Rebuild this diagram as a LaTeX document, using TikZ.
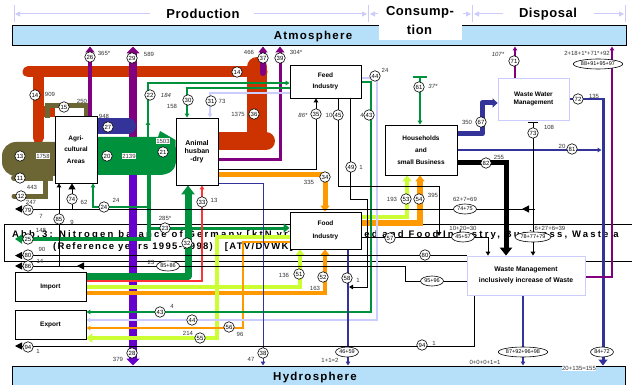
\documentclass[tikz,border=0pt]{standalone}
\usepackage{fontspec}
\setmainfont{Liberation Sans}
\newfontfamily\capfont[LetterSpace=23]{Liberation Sans}
\newfontfamily\capfontb[LetterSpace=14]{Liberation Sans}
\newfontfamily\hdfont[LetterSpace=4]{Liberation Sans}
\newfontfamily\spfont[LetterSpace=11]{Liberation Sans}
\usetikzlibrary{arrows.meta,shapes.geometric,positioning}
\pgfdeclarelayer{back}
\pgfdeclarelayer{flows}
\pgfsetlayers{back,flows,main}
\definecolor{skyb}{RGB}{182,224,250}
\definecolor{lav}{RGB}{204,204,255}
\definecolor{rust}{RGB}{204,51,0}
\definecolor{olv}{RGB}{107,102,51}
\definecolor{purp}{RGB}{128,0,128}
\definecolor{viol}{RGB}{102,0,204}
\definecolor{dblue}{RGB}{51,51,153}
\definecolor{grn}{RGB}{0,145,60}
\definecolor{ygrn}{RGB}{204,255,51}
\definecolor{orng}{RGB}{255,153,0}
\definecolor{lred}{RGB}{255,51,51}

\begin{document}
\begin{tikzpicture}[x=1pt,y=-1pt,
  box/.style={draw,fill=white,line width=0.8pt,align=center,inner sep=0pt},
  wbox/.style={box,draw=lav},
  sphere/.style={draw,fill=skyb,line width=1pt,inner sep=0pt},
  num/.style={circle,draw,fill=white,line width=0.6pt,inner sep=0pt,
    minimum size=10.5pt,font=\fontsize{6}{6}\selectfont},
  oval/.style={ellipse,draw,fill=white,line width=0.6pt,inner sep=0.4pt,
    minimum height=10pt,font=\fontsize{5.5}{6}\selectfont},
  val/.style={inner sep=0.4pt,font=\fontsize{6}{6}\selectfont,text=black!80},
  hdr/.style={draw=lav,line width=1pt},
  tip/.style={-{Triangle[length=4pt,width=4.5pt]}},
  tipm/.style={-{Triangle[length=6pt,width=9pt]}},
  tipL/.style={-{Triangle[length=7pt,width=7pt]}}]
\useasboundingbox (0,0) rectangle (632,385);

% boxes
\node[box,minimum width=42pt,minimum height=67pt,font=\fontsize{6.5}{11.5}\selectfont\bfseries] (agri) at (76,149.5) {Agri-\\cultural\\Areas};
\node[box,minimum width=42pt,minimum height=67pt,font=\fontsize{7}{8}\selectfont\bfseries] (ani) at (197,151.5) {Animal\\husban\\-dry};
\node[box,minimum width=71pt,minimum height=33pt,font=\fontsize{6.5}{11}\selectfont\bfseries] (feed) at (325.5,81.5) {Feed\\Industry};
\node[box,minimum width=72pt,minimum height=50pt,font=\fontsize{6.5}{12}\selectfont\bfseries] (house) at (421,150) {Households\\and\\small Business};
\node[wbox,minimum width=71pt,minimum height=42pt,font=\fontsize{6.5}{8}\selectfont\bfseries] (ww) at (533.5,99) {Waste Water\\Management};
\node[box,minimum width=71pt,minimum height=37pt,font=\fontsize{6.5}{13}\selectfont\bfseries] (food) at (325.5,230.5) {Food\\Industry};
\node[wbox,minimum width=118pt,minimum height=39pt,font=\fontsize{6.8}{11}\selectfont\bfseries] (wm) at (526,275.5) {Waste Management\\inclusively increase of Waste};
\node[box,minimum width=71pt,minimum height=29pt,font=\fontsize{6.5}{7}\selectfont\bfseries] (imp) at (50.5,286.5) {Import};
\node[box,minimum width=71pt,minimum height=29pt,font=\fontsize{6.5}{7}\selectfont\bfseries] (exp) at (50.5,324.5) {Export};

\begin{pgfonlayer}{back}
\fill[white] (0,0) rectangle (632,385);
\node[sphere,minimum width=614pt,minimum height=20pt] (atmo) at (319,36) {};
\node[sphere,minimum width=613pt,minimum height=34pt] (hydro) at (318.5,383) {};
\fill[white] (379,20) rectangle (462,40.5);
\node[draw,line width=0.8pt,fill=white,minimum width=636pt,minimum height=37pt,inner sep=0pt,anchor=north west] (capbox) at (4,224) {};
\node[anchor=base west,inner sep=0pt,font=\capfont\fontsize{9.5}{10}\selectfont\bfseries] (cap1) at (12,237)
  {Abb.3: Nitrogen balance of Germany [ktN yr\textsuperscript{-1}] for the Feed and Food Industry, Business, Waste a};
\node[anchor=base west,inner sep=0pt,font=\capfontb\fontsize{9.5}{10}\selectfont\bfseries] (cap2) at (53,249)
  {(Reference years 1995-1998)\ \ \ [ATV/DVWK]};
\end{pgfonlayer}

\begin{pgfonlayer}{flows}
% rust loop
\draw[rust,line width=11pt,line cap=round] (28,72) -- (262,72);
\draw[rust,line width=11pt,line cap=round] (38,72) -- (38,138);
\draw[rust,line width=11pt] (38,112) -- (agri.west |- 0,112);
\draw[rust,line width=20pt,line cap=round] (257,67) -- (257,140);
\draw[rust,line width=18pt,line cap=round] (ani.east |- 0,141) -- (266,141);
% olive
\fill[olv,rounded corners=14pt] (70,142) -- (2,142) -- (2,176) -- (70,176) -- cycle;
\draw[olv,line width=6pt,line cap=round] (50,172) |- (14,178);
\draw[olv,line width=5pt,line cap=round] (45,176) |- (14,196);
\draw[olv,line width=5pt] (47,118) |- (86,106) -- (agri.north -| 86,0);
% purple and violet
\draw[purp,line width=4pt,tipm] (agri.north -| 90,0) -- (atmo.south -| 90,0);
\draw[purp,line width=8pt,-{Triangle[length=7pt,width=13pt]}] (133,138) -- (atmo.south -| 133,0);
\draw[purp,line width=6pt,line cap=round,tipm] (263,73) -- (atmo.south -| 263,0);
\draw[purp,line width=3pt,tipm] (ani.east |- 0,160) -| (atmo.south -| 280,0);
\draw[viol,line width=8pt,-{Triangle[length=7pt,width=13pt]}] (133,170) -- (hydro.north -| 133,0);
% dark blue and green blobs
\draw[dblue,line width=16pt,line cap=round] (agri.east |- 0,126) -- (128,126);
\fill[grn] (agri.east |- 0,137) -- (158,137) -- (160,131) -- (ani.west |- 0,140) -- (176,160)
  .. controls (176,170) and (170,175) .. (158,175) -- (agri.east |- 0,175) -- cycle;
% green
\draw[grn,line width=4pt] (149,170) -- (149,239);
\draw[grn,line width=4pt,-{Triangle[length=7pt,width=9pt]}] (151,239) -- (15,239);
\draw[grn,line width=3pt,tipm] (149,228) -- (food.west |- 0,228);
\draw[grn,line width=2pt,tip] (148,137) -- (148,121);
\draw[grn,line width=2pt,tip] (148,123) |- (feed.west |- 0,83);
\draw[grn,line width=2pt,tip] (feed.west |- 0,88) -| (ani.north -| 187,0);
\draw[lav,line width=1.5pt,tip] (feed.west |- 0,93) -| (ani.north -| 210,0);
\draw[grn,line width=1.2pt,tip] (148,207) -| (agri.south -| 93,0);
\draw[grn,line width=7pt,line join=round,-{Triangle[length=9pt,width=13pt]}] (imp.east |- 0,276) -| (ani.south -| 188,0);
\draw[lred,line width=1.2pt,tip] (imp.east |- 0,281) -| (ani.south -| 202,0);
% orange and yellow-green
\draw[orng,line width=5pt,tipm] (ani.east |- 0,175) -| (food.north -| 325,0);
\draw[orng,line width=4pt,tipm] (imp.east |- 0,293) -| (food.south -| 325,0);
\draw[ygrn,line width=4pt,tipm] (imp.east |- 0,287) -| (food.south -| 300,0);
\draw[ygrn,line width=4pt,tipm] (food.east |- 0,217) -| (house.south -| 407,0);
\draw[orng,line width=6pt,tipm] (food.east |- 0,222.5) -| (house.south -| 420,0);
\draw[ygrn,line width=4pt,tipm] (food.west |- 0,237) -| (217,338) -- (exp.east |- 0,338);
\draw[orng,line width=1.2pt,tip] (food.west |- 0,242) -| (243,328) -- (exp.east |- 0,328);
\draw[lav,line width=1.5pt,tip] (feed.east |- 0,78) -| (377,320) -- (exp.east |- 0,320);
\draw[grn,line width=1.2pt,tip] (feed.east |- 0,82) -| (371,312) -- (exp.east |- 0,312);
% blue
\draw[dblue,line width=1pt,tip] (ani.east |- 0,183) -| (hydro.north -| 263,0);
\draw[dblue,line width=1.2pt,tip] (food.south -| 348,0) -- (hydro.north -| 348,0);
\draw[dblue,line width=1.2pt,tip] (wm.south -| 523,0) -- (hydro.north -| 523,0);
\draw[dblue,line width=1.2pt] (ww.east |- 0,99) -- (603,99);
\draw[dblue,line width=3pt,-{Triangle[length=6pt,width=9pt]}] (603,98) -- (hydro.north -| 603,0);
\draw[dblue,line width=1.2pt,tip] (house.east |- 0,150) -- (601.5,150);
\draw[dblue,line width=5pt,line join=round,-{Triangle[length=5pt,width=9pt]}] (house.east |- 0,134) -| (482,103) -- (ww.west |- 0,103);
\draw[purp,line width=1.2pt,tip] (wm.east |- 0,277) -| (atmo.south -| 612,0);
\draw[purp,line width=1.5pt,tip] (ww.north -| 515,0) -- (atmo.south -| 515,0);
% black
\draw[line width=1pt,tip] (ani.east |- 0,170) -| (feed.south -| 316,0);
\draw[line width=1pt,tip] (feed.south -| 338,0) |- (439,186) -- (439,236);
\draw[line width=1pt,tip] (feed.south -| 350,0) |- (367,199) |- (349,287);
\draw[line width=1pt,tip] (food.east |- 0,237) -| (wm.north -| 488,0);
\draw[line width=5pt,-{Triangle[length=8pt,width=12pt]}] (house.east |- 0,163) -| (wm.north -| 506,0);
\draw[line width=1pt,tip] (533,123) -- (wm.north -| 533,0);
\draw[line width=1pt] (528,123) -- (538,123);
\draw[line width=1pt,tipL] (535,209) -- (15,209);
\draw[line width=1pt,tipL] (535,209) -- (522,209);
\draw[line width=1pt,-{Triangle[length=6pt,width=7pt]}] (72,209) -- (agri.south -| 72,0);
\draw[line width=1pt,tip] (59,266) -- (agri.south -| 59,0);
\draw[line width=1pt,tipL] (wm.north west) -- (wm.north west -| 15,0);
\draw[line width=1pt,tipL] (wm.west |- 0,281) -| (405,266) -- (15,266);
\draw[line width=1pt,tipL] (88,266) -- (77,266);
\draw[line width=1pt,tipL] (wm.south -| 474,0) |- (15,346);
\draw[grn,line width=1.2pt,tip] (420,77) -- (house.north -| 420,0);
\draw[grn,line width=1.2pt] (413,77) -- (427,77);
\end{pgfonlayer}

% headings
\node[font=\hdfont\fontsize{13}{13}\selectfont\bfseries] (prod) at (203,14) {Production};
\node[font=\hdfont\fontsize{13}{13}\selectfont\bfseries] (cons) at (420,12) {Consump-};
\node[font=\hdfont\fontsize{13}{13}\selectfont\bfseries] (tion) at (419.5,30) {tion};
\node[font=\hdfont\fontsize{13}{13}\selectfont\bfseries] (disp) at (548,14) {Disposal};
\node[font=\spfont\fontsize{11.5}{12}\selectfont\bfseries] (atmotxt) at (313,36.5) {Atmosphere};
\node[font=\spfont\fontsize{11.5}{12}\selectfont\bfseries] (hydrotxt) at (315,378) {Hydrosphere};
\draw[hdr,-{Triangle[length=5pt,width=5pt]}] (150,14) -- (15,14);
\draw[hdr,-{Triangle[length=5pt,width=5pt]}] (254,14) -- (367,14);
\draw[hdr,-{Triangle[length=5pt,width=5pt]}] (378,14) -- (370,14);
\draw[hdr,-{Triangle[length=5pt,width=5pt]}] (463,14) -- (471,14);
\draw[hdr,-{Triangle[length=5pt,width=5pt]}] (503,14) -- (474,14);
\draw[hdr,-{Triangle[length=5pt,width=5pt]}] (594,14) -- (624,14);
\foreach \x in {14,368,472,625} \draw[hdr] (\x,5) -- (\x,22);

% flow numbers
\foreach \nm/\t/\x/\y in {26/26/90/57, 29/29/132/58, 37/37/263/58, 39/39/280/58, 14a/14/237/72,
  14b/14/35/95, 15/15/64/107, 22/22/150/95, 30/30/188/100, 31/31/211/101, 36/36/254/114,
  35/35/316/114, 45/45/338/115, 43a/43/369/115, 44a/44/375/76, 61/61/419/87, 71/71/514/61,
  72/72/578/99, 27/27/108/127, 13/13/20/156, 20/20/107/156, 21/21/163/152, 11/11/20/178,
  12/12/21/196, 67/67/481/122, 73/73/533/133, 81/81/572/149, 82/82/486/163, 49/49/351/167,
  34/34/325/177, 74/74/72/199, 24/24/104/207, 33/33/202/202, 79/79/28/210, 85/85/59/219,
  53/53/406/199, 54/54/419/199, 23/23/165/228, 25/25/28/239, 32/32/187/243, 57/57/390/238,
  80a/80/28/255, 80b/80/425/255, 86/86/28/266, 51/51/299/274, 52/52/323/277, 58/58/347/278,
  43b/43/160/312, 44b/44/192/320, 56/56/229/327, 55/55/200/338, 94a/94/28/347, 94b/94/422/345,
  28/28/132/353, 38/38/263/353}
  \node[num] (n\nm) at (\x,\y) {\t};
\foreach \nm/\t/\x/\y in {o88/88+91+95+97/598/64, o74/74+75/465/209, o45/45+57/463/237,
  o78/78+77+79/533/237, o85/85+86/168/266, o95/95+96/432/281, o46/46+59/347/352,
  o87/87+92+96+98/523/352, o84/84+72/602/352}
  \node[oval] (\nm) at (\x,\y) {\t};
\foreach \nm/\t/\x/\y in {365/365*/104/53, 589/589/149/54, 466/466/249/52, 304/304*/296/52,
  909/909/50/94, 250/250/82/101, 184/\textit{184}/166/95, 158/158/172/106, 73/73/222/101,
  1375/1375/238/114, 86/\textit{86*}/303/115, 10/10/329/115, 4a/4/362/115, 24a/24/385/70,
  37/\textit{37*}/433/86, 107/\textit{107*}/498/54, atm/2+18+1*+71*+92/587/53, 135/135/594/96,
  948/948/104/116, 443/443/32/187, 247/247/31/202, 350/350/467/122, 108/108/549/127,
  20/20/562/146, 255/255/499/157, 1a/1/361/167, 335/335/309/182, 62/62/84/202, 24b/24/116/200,
  13/13/214/200, 7/7/41/216, 9/9/72/222, 193/193/392/199, 395/395/433/195, 69/62+7=69/465/199,
  285/285*/165/218, 148/148/41/230, 30/10+20=30/463/228, 39/6+27+6=39/550/228, 90/90/42/249,
  14/14/40/261, 23/23/151/262, 136/136/284/275, 163/163/315/288, 1b/1/358/280, 4b/4/172/306,
  96/96/240/334, 214/214/188/333, 1c/1/38/351, 1d/1/434/343, 379/379/118/359, 47/47/251/359,
  2/1+1=2/330/360, 1e/0+0+0+1=1/485/362}
  \node[val] (v\nm) at (\x,\y) {\t};
\node[val,fill=white] (v1758) at (43,156) {1758};
\node[val,fill=white] (v2139) at (129,156) {2139};
\node[val,fill=white] (v1503) at (163,141) {1503};
\node[val,fill=white] (v155) at (579,368) {20+135=155};
\end{tikzpicture}
\end{document}
